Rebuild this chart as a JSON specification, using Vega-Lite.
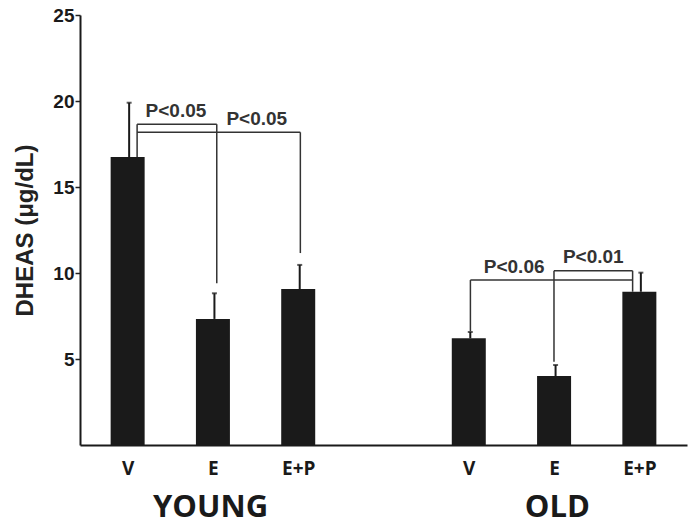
{
  "$schema": "https://vega.github.io/schema/vega-lite/v6.json",
  "width": 607,
  "height": 430,
  "autosize": {"type": "none"},
  "padding": {"left": 80, "top": 15, "right": 9, "bottom": 80},
  "background": "white",
  "config": {"view": {"stroke": null}, "axis": {"grid": false}},
  "datasets": {
    "bars": [
      {"group": "YOUNG", "treatment": "V", "slot": 0.5, "mean": 16.74, "upper": 19.9},
      {"group": "YOUNG", "treatment": "E", "slot": 1.5, "mean": 7.33, "upper": 8.82},
      {"group": "YOUNG", "treatment": "E+P", "slot": 2.5, "mean": 9.07, "upper": 10.47},
      {"group": "OLD", "treatment": "V", "slot": 4.5, "mean": 6.2, "upper": 6.57},
      {"group": "OLD", "treatment": "E", "slot": 5.5, "mean": 4.01, "upper": 4.65},
      {"group": "OLD", "treatment": "E+P", "slot": 6.5, "mean": 8.91, "upper": 10.02}
    ],
    "segments": [
      {"x1": 0.611, "x2": 1.545, "y1": 18.65, "y2": 18.65},
      {"x1": 0.611, "x2": 0.611, "y1": 16.74, "y2": 18.65},
      {"x1": 1.545, "x2": 1.545, "y1": 9.4, "y2": 18.65},
      {"x1": 0.611, "x2": 2.525, "y1": 18.18, "y2": 18.18},
      {"x1": 2.525, "x2": 2.525, "y1": 11.16, "y2": 18.18},
      {"x1": 4.519, "x2": 6.421, "y1": 9.59, "y2": 9.59},
      {"x1": 4.519, "x2": 4.519, "y1": 6.6, "y2": 9.59},
      {"x1": 5.499, "x2": 6.421, "y1": 10.13, "y2": 10.13},
      {"x1": 5.499, "x2": 5.499, "y1": 4.84, "y2": 10.13},
      {"x1": 6.421, "x2": 6.421, "y1": 8.91, "y2": 10.13}
    ],
    "labels": [
      {"x": 1.066, "y": 19.09, "label": "P<0.05"},
      {"x": 2.014, "y": 18.6, "label": "P<0.05"},
      {"x": 5.032, "y": 10.02, "label": "P<0.06"},
      {"x": 5.96, "y": 10.6, "label": "P<0.01"}
    ],
    "groups": [
      {"group": "YOUNG", "slot": 1.5},
      {"group": "OLD", "slot": 5.5}
    ]
  },
  "layer": [
    {
      "layer": [
        {
          "data": {"name": "bars"},
          "mark": {"type": "bar", "size": 34, "color": "#1a1a1a"},
          "encoding": {
            "x": {
              "field": "slot", "type": "quantitative",
              "scale": {"domain": [0, 7], "nice": false, "zero": false},
              "axis": {
                "title": null,
                "values": [0.5, 1.5, 2.5, 4.5, 5.5, 6.5],
                "labelExpr": "(datum.value < 1 || (datum.value > 4 && datum.value < 5)) ? 'V' : ((datum.value > 1 && datum.value < 2) || (datum.value > 5 && datum.value < 6)) ? 'E' : 'E+P'",
                "ticks": false,
                "tickSize": 0,
                "domainWidth": 2,
                "domainColor": "#1a1a1a",
                "labelFont": "Open Sans",
                "labelFontWeight": "bold",
                "labelFontSize": 19,
                "labelColor": "#1a1a1a",
                "labelPadding": 14,
                "labelFlush": false,
                "labelOverlap": false
              }
            },
            "y": {
              "field": "mean", "type": "quantitative",
              "scale": {"domain": [0, 25], "nice": false},
              "axis": {
                "title": "DHEAS (μg/dL)",
                "values": [5, 10, 15, 20, 25],
                "labelFont": "Liberation Sans",
                "labelFontWeight": "bold",
                "labelFontSize": 19,
                "labelColor": "#1a1a1a",
                "labelPadding": 1,
                "tickSize": 5,
                "tickWidth": 1.5,
                "tickColor": "#222",
                "domainColor": "#1a1a1a",
                "domainWidth": 2,
                "titleFont": "Liberation Sans",
                "titleFontSize": 24,
                "titleFontWeight": "bold",
                "titleColor": "#222",
                "titlePadding": 15
              }
            }
          }
        },
        {
          "data": {"name": "bars"},
          "mark": {"type": "rule", "strokeWidth": 2, "color": "#1a1a1a", "xOffset": 1.5},
          "encoding": {
            "x": {"field": "slot", "type": "quantitative", "scale": {"domain": [0, 7], "nice": false, "zero": false}},
            "y": {"field": "mean", "type": "quantitative"},
            "y2": {"field": "upper"}
          }
        },
        {
          "data": {"name": "bars"},
          "mark": {"type": "tick", "orient": "horizontal", "size": 5, "thickness": 2, "color": "#1a1a1a", "xOffset": 1.5},
          "encoding": {
            "x": {"field": "slot", "type": "quantitative", "scale": {"domain": [0, 7], "nice": false, "zero": false}},
            "y": {"field": "upper", "type": "quantitative"}
          }
        },
        {
          "data": {"name": "segments"},
          "mark": {"type": "rule", "strokeWidth": 1.5, "color": "#333"},
          "encoding": {
            "x": {"field": "x1", "type": "quantitative", "scale": {"domain": [0, 7], "nice": false, "zero": false}},
            "x2": {"field": "x2"},
            "y": {"field": "y1", "type": "quantitative"},
            "y2": {"field": "y2"}
          }
        },
        {
          "data": {"name": "labels"},
          "mark": {"type": "text", "font": "Liberation Sans", "fontSize": 19, "fontWeight": "bold", "color": "#333", "align": "center", "baseline": "alphabetic"},
          "encoding": {
            "x": {"field": "x", "type": "quantitative", "scale": {"domain": [0, 7], "nice": false, "zero": false}},
            "y": {"field": "y", "type": "quantitative"},
            "text": {"field": "label"}
          }
        }
      ]
    },
    {
      "data": {"name": "groups"},
      "mark": {"type": "tick", "opacity": 0},
      "encoding": {
        "x": {
          "field": "slot", "type": "quantitative",
          "scale": {"domain": [0, 7], "nice": false, "zero": false},
          "axis": {
            "orient": "bottom",
            "title": null,
            "values": [1.5, 5.5],
            "labelExpr": "datum.value < 3 ? 'YOUNG' : 'OLD'",
            "ticks": false,
            "tickSize": 0,
            "domain": false,
            "labelFont": "Open Sans",
            "labelFontWeight": "bold",
            "labelFontSize": 31,
            "labelColor": "#1a1a1a",
            "labelPadding": 47,
            "labelFlush": false,
            "labelOverlap": false
          }
        }
      }
    }
  ],
  "resolve": {"scale": {"x": "independent"}, "axis": {"x": "independent"}}
}
